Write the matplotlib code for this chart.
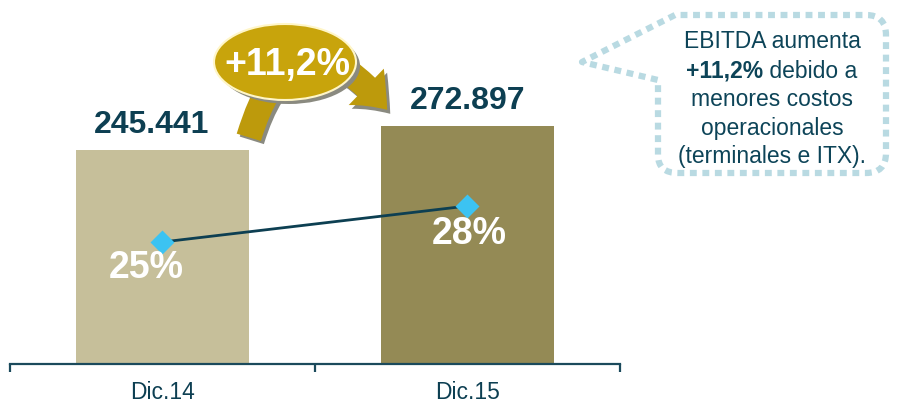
import matplotlib
matplotlib.use("Agg")
import matplotlib.pyplot as plt
from matplotlib.patches import Ellipse, FancyArrowPatch, PathPatch
from matplotlib.path import Path

plt.rcParams['font.family'] = ['Liberation Sans', 'DejaVu Sans']

# data
periods = ['Dic.14', 'Dic.15']
ebitda = [245441, 272897]
ebitda_labels = ['245.441', '272.897']
margin = [25, 28]
margin_labels = ['25%', '28%']
growth_label = '+11,2%'

bar_colors = ['#c6bf9a', '#948a55']
dark = '#0d3f52'

fig = plt.figure(figsize=(8.97, 4.03), dpi=100)
ax = fig.add_axes([10 / 897, 39 / 403, 610 / 897, 364 / 403])

x = list(range(len(periods)))
ax.bar(x, ebitda, width=0.565, color=bar_colors, zorder=2)
ax.set_xlim(-0.5, 1.5)
ax.set_ylim(0, 417500)

for sp in ['top', 'left', 'right']:
    ax.spines[sp].set_visible(False)
ax.spines['bottom'].set_color('#1b4a5c')
ax.spines['bottom'].set_linewidth(1.6)
ax.set_yticks([])
ax.set_xticks(x)
ax.set_xticklabels(periods, fontsize=16.5, color=dark)
ax.tick_params(axis='x', which='major', length=0, pad=12)
ax.set_xticks([-0.5, 0.5, 1.5], minor=True)
ax.tick_params(axis='x', which='minor', length=6, width=1.6, color='#1b4a5c', direction='out')

# value labels above bars
offs = [-8, 0]
for i, v in enumerate(ebitda):
    ax.annotate(ebitda_labels[i], (i, v), xytext=(offs[i], 7), textcoords='offset points',
                ha='center', va='bottom', fontsize=23, fontweight='bold', color=dark)

# margin line on secondary axis
ax2 = ax.twinx()
ax2.set_ylim(14.83, 45.17)
ax2.axis('off')
ax2.plot(x, margin, color=dark, lw=2, zorder=3)
ax2.plot(x, margin, 'D', color='#3cc3f2', markersize=12, markeredgecolor='none', zorder=4)
poffs = [(-12, -19), (1, -20)]
for i, m in enumerate(margin):
    ax2.annotate(margin_labels[i], (i, m), xytext=poffs[i], textcoords='offset points',
                 ha='center', va='center', fontsize=27, fontweight='bold', color='white', zorder=5)

# overlay in pixel coordinates
ov = fig.add_axes([0, 0, 1, 1])
ov.set_xlim(0, 897)
ov.set_ylim(403, 0)
ov.axis('off')

# curved growth arrow
style = 'simple,head_width=2.6,head_length=1.6,tail_width=1.3'
arr_sh = FancyArrowPatch((251, 143), (392, 116), connectionstyle='arc3,rad=-0.95',
                         arrowstyle=style, mutation_scale=14, color='#8a8a80', lw=0, zorder=1)
ov.add_patch(arr_sh)
arr = FancyArrowPatch((248, 140), (389, 112), connectionstyle='arc3,rad=-0.95',
                      arrowstyle=style, mutation_scale=14, color='#bd9a0c', lw=0, zorder=2)
ov.add_patch(arr)
ov.add_patch(Ellipse((289, 66), 142, 76, color='#8a8a80', lw=0, zorder=3))
ov.add_patch(Ellipse((285, 62), 142, 76, facecolor='#c8a40c', edgecolor='#fff6c8', lw=1.5, zorder=4))
ov.text(287, 65, growth_label, ha='center', va='center', fontsize=27, fontweight='bold',
        color='white', zorder=5)

# dotted callout
verts = [(675, 15), (582, 62), (658, 80), (658, 155), (658, 173), (678, 173),
         (866, 173), (886, 173), (886, 153), (886, 35), (886, 15), (866, 15), (675, 15)]
codes = [Path.MOVETO, Path.LINETO, Path.LINETO, Path.LINETO, Path.CURVE3, Path.CURVE3,
         Path.LINETO, Path.CURVE3, Path.CURVE3, Path.LINETO, Path.CURVE3, Path.CURVE3, Path.LINETO]
ov.add_patch(PathPatch(Path(verts, codes), facecolor='none', edgecolor='#b9dae2',
                       lw=4.5, linestyle=(0, (1.1, 0.9)), capstyle='butt', joinstyle='round'))

txt_color = '#0d4458'
cx = 772
fs = 16.5
ov.text(cx, 42, 'EBITDA aumenta', ha='center', va='center', fontsize=fs, color=txt_color)
ov.text(cx, 100, 'menores costos', ha='center', va='center', fontsize=fs, color=txt_color)
ov.text(cx, 128, 'operacionales', ha='center', va='center', fontsize=fs, color=txt_color)
ov.text(cx, 156, '(terminales e ITX).', ha='center', va='center', fontsize=fs, color=txt_color)

# mixed bold line
r = fig.canvas.get_renderer()
tb = ov.text(0, 71, '+11,2%', ha='left', va='center', fontsize=fs, fontweight='bold', color=txt_color)
tn = ov.text(0, 71, ' debido a', ha='left', va='center', fontsize=fs, color=txt_color)
wb = tb.get_window_extent(r).width
wn = tn.get_window_extent(r).width
x0 = cx - (wb + wn) / 2
tb.set_x(x0)
tn.set_x(x0 + wb)

fig.savefig('out.png', dpi=100)
